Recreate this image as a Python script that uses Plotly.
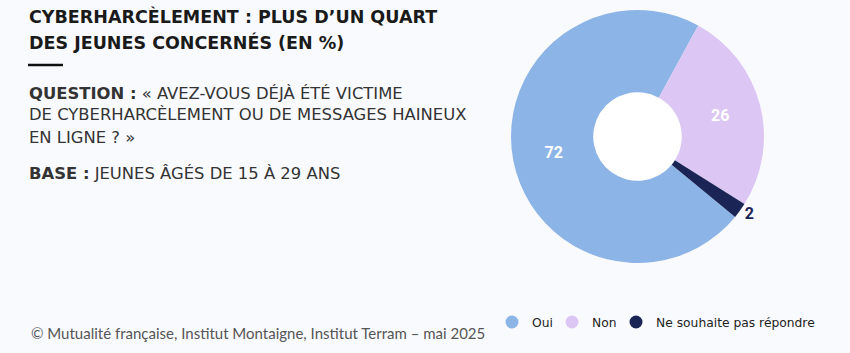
import plotly.graph_objects as go

labels = ["Oui", "Non", "Ne souhaite pas répondre"]
values = [72, 26, 2]
colors = ["#8DB4E6", "#DCC7F4", "#1B2555"]
text_positions = ["inside", "inside", "outside"]

title_lines = ["CYBERHARCÈLEMENT : PLUS D’UN QUART", "DES JEUNES CONCERNÉS (EN %)"]
question_lines = ["<b>QUESTION :</b> « AVEZ-VOUS DÉJÀ ÉTÉ VICTIME",
                  "DE CYBERHARCÈLEMENT OU DE MESSAGES HAINEUX",
                  "EN LIGNE ? »"]
base_line = "<b>BASE :</b> JEUNES ÂGÉS DE 15 À 29 ANS"
source = "© Mutualité française, Institut Montaigne, Institut Terram – mai 2025"

W, H = 850, 353
BG = "#F9FAFE"

def py(y):
    return 1 - y / H

def px(x):
    return x / W

fig = go.Figure()

fig.add_trace(go.Pie(
    labels=labels, values=values, sort=False, direction="clockwise",
    rotation=129.5, hole=0.35,
    marker=dict(colors=colors, line=dict(width=0)),
    texttemplate="<b>%{value}</b>", textposition=text_positions,
    insidetextfont=dict(color="white", size=16, family="Roboto"),
    outsidetextfont=dict(color="#1B2555", size=16, family="Roboto"),
    insidetextorientation="horizontal",
    domain=dict(x=[px(511), px(764)], y=[py(263), py(10)]),
    showlegend=False, hoverinfo="label+value",
))

legend_names = ["legend", "legend2", "legend3"]
legend_x = [492, 552, 616]
for lab, col, lg in zip(labels, colors, legend_names):
    fig.add_trace(go.Scatter(
        x=[None], y=[None], mode="markers", name=lab, legend=lg,
        marker=dict(symbol="circle", size=13, color=col),
    ))

ann = []
for i, t in enumerate(title_lines):
    ann.append(dict(text=f"<b>{t}</b>", x=px(27), y=py([16, 42][i]),
                    font=dict(size=17.5, color="#1A1A1A", family="DejaVu Sans")))
for i, t in enumerate(question_lines):
    ann.append(dict(text=t, x=px(27), y=py([93, 115, 137][i]),
                    font=dict(size=16.4, color="#333333", family="DejaVu Sans")))
ann.append(dict(text=base_line, x=px(27), y=py(173),
                font=dict(size=16.4, color="#333333", family="DejaVu Sans")))
ann.append(dict(text=source, x=px(29), y=py(333),
                font=dict(size=15, color="#555555", family="Lato")))
for a in ann:
    a.update(xref="paper", yref="paper", xanchor="left", yanchor="middle",
             showarrow=False)

shapes = [
    dict(type="line", xref="paper", yref="paper",
         x0=px(28), x1=px(63), y0=py(65), y1=py(65),
         line=dict(color="#111111", width=2.5)),
    dict(type="circle", xref="paper", yref="paper", layer="below",
         x0=px(593), x1=px(682), y0=py(181), y1=py(92),
         fillcolor="#FFFFFF", line=dict(width=0)),
]

legend_common = dict(orientation="h", xanchor="left", yanchor="middle",
                     y=py(322), bgcolor="rgba(0,0,0,0)",
                     font=dict(size=12.3, color="#222222", family="DejaVu Sans"),
                     itemwidth=30)

fig.update_layout(
    width=W, height=H, margin=dict(l=0, r=0, t=0, b=0),
    paper_bgcolor=BG, plot_bgcolor=BG,
    xaxis=dict(visible=False), yaxis=dict(visible=False),
    annotations=ann, shapes=shapes,
    legend=dict(x=px(legend_x[0]), **legend_common),
    legend2=dict(x=px(legend_x[1]), **legend_common),
    legend3=dict(x=px(legend_x[2]), **legend_common),
)

fig.write_html("out.html")
